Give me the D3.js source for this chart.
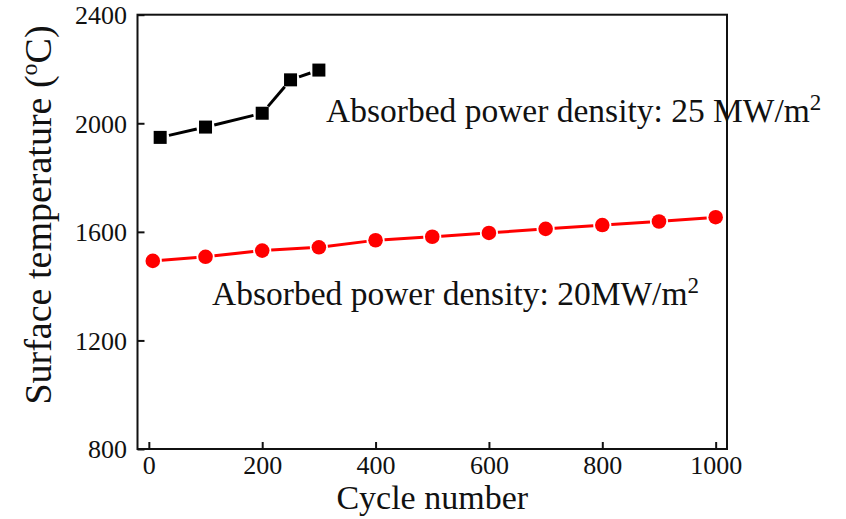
<!DOCTYPE html>
<html>
<head>
<meta charset="utf-8">
<script src="https://cdn.jsdelivr.net/npm/d3@7"></script>
<style>
  html, body { margin: 0; padding: 0; background: #fff; }
  svg { display: block; }
  text { font-family: "Liberation Serif", "Times New Roman", serif; fill: #111; }
</style>
</head>
<body>
<svg id="chart" width="846" height="519"></svg>
<script>
// Surface temperature vs. cycle number at two absorbed power densities
const cycles25 = [20, 100, 200, 250, 300];
const temps25  = [1948, 1986, 2037, 2160, 2196];

const cycles20 = [7, 100, 200, 300, 400, 500, 600, 700, 800, 900, 1000];
const temps20  = [1493, 1508, 1531, 1543, 1569, 1582, 1596, 1611, 1625, 1638, 1654];

const xTicks = [0, 200, 400, 600, 800, 1000];
const yTicks = [800, 1200, 1600, 2000, 2400];

const label25 = ["Absorbed power density: 25 MW/m", "2"];
const label20 = ["Absorbed power density: 20MW/m", "2"];

const SERIF = '"Liberation Serif", "Times New Roman", serif';
const svg = d3.select("#chart");
const plot = { left: 137.5, right: 727, top: 14.7, bottom: 449 };

const x = d3.scaleLinear().domain([-20, 1020]).range([plot.left, plot.right]);
const y = d3.scaleLinear().domain([800, 2400]).range([plot.bottom, plot.top]);

// Axes with inward ticks
const fmt = d3.format("d");
const xAxis = d3.axisBottom(x).tickValues(xTicks).tickFormat(fmt)
  .tickSizeInner(-7).tickSizeOuter(0).tickPadding(7);
const yAxis = d3.axisLeft(y).tickValues(yTicks).tickFormat(fmt)
  .tickSizeInner(-7).tickSizeOuter(0).tickPadding(10.5);

const gx = svg.append("g").attr("transform", `translate(0,${plot.bottom})`).call(xAxis);
const gy = svg.append("g").attr("transform", `translate(${plot.left},0)`).call(yAxis);
[gx, gy].forEach(g => {
  g.attr("font-family", SERIF).attr("font-size", 26);
  g.select(".domain").remove();
  g.selectAll(".tick line").attr("stroke", "#111").attr("stroke-width", 2);
  g.selectAll(".tick text").attr("fill", "#222");
});
gy.selectAll(".tick text").attr("dy", "0.34em");

// Series lines, drawn as segments that stop short of each marker
function segments(xs, ys, gap) {
  const pts = xs.map((c, i) => [x(c), y(ys[i])]);
  const segs = [];
  for (let i = 0; i < pts.length - 1; i++) {
    const [x0, y0] = pts[i], [x1, y1] = pts[i + 1];
    const dx = x1 - x0, dy = y1 - y0, len = Math.hypot(dx, dy);
    const ux = dx / len, uy = dy / len;
    segs.push([x0 + ux * gap, y0 + uy * gap, x1 - ux * gap, y1 - uy * gap]);
  }
  return segs;
}

svg.append("g").selectAll("line")
  .data(segments(cycles25, temps25, 9))
  .join("line")
  .attr("x1", d => d[0]).attr("y1", d => d[1]).attr("x2", d => d[2]).attr("y2", d => d[3])
  .attr("stroke", "#000").attr("stroke-width", 3);

svg.append("g").selectAll("line")
  .data(segments(cycles20, temps20, 9))
  .join("line")
  .attr("x1", d => d[0]).attr("y1", d => d[1]).attr("x2", d => d[2]).attr("y2", d => d[3])
  .attr("stroke", "#ff0000").attr("stroke-width", 3);

// Markers
const sq = 13;
svg.append("g").selectAll("rect")
  .data(cycles25.map((c, i) => [c, temps25[i]]))
  .join("rect")
  .attr("x", d => x(d[0]) - sq / 2).attr("y", d => y(d[1]) - sq / 2)
  .attr("width", sq).attr("height", sq)
  .attr("fill", "#000");

svg.append("g").selectAll("circle")
  .data(cycles20.map((c, i) => [c, temps20[i]]))
  .join("circle")
  .attr("cx", d => x(d[0])).attr("cy", d => y(d[1]))
  .attr("r", 7.3)
  .attr("fill", "#ff0000");

// Annotations
function annotate(parts, tx, ty) {
  const t = svg.append("text").attr("x", tx).attr("y", ty).attr("font-size", 33.5);
  t.append("tspan").text(parts[0]);
  t.append("tspan").attr("dy", -12).attr("font-size", 23).text(parts[1]);
}
annotate(label25, 326, 122);
annotate(label20, 212, 305);

// Frame
svg.append("rect")
  .attr("x", plot.left).attr("y", plot.top)
  .attr("width", plot.right - plot.left).attr("height", plot.bottom - plot.top)
  .attr("fill", "none").attr("stroke", "#111").attr("stroke-width", 2);

// Axis titles
svg.append("text")
  .attr("x", (x(0) + x(1000)) / 2).attr("y", 509)
  .attr("text-anchor", "middle").attr("font-size", 34)
  .text("Cycle number");

const yt = svg.append("text")
  .attr("transform", "translate(51,215) rotate(-90)")
  .attr("text-anchor", "middle").attr("font-size", 38);
yt.append("tspan").text("Surface temperature (");
yt.append("tspan").attr("dy", -14).attr("font-size", 24).text("o");
yt.append("tspan").attr("dy", 14).text("C)");
</script>
</body>
</html>
